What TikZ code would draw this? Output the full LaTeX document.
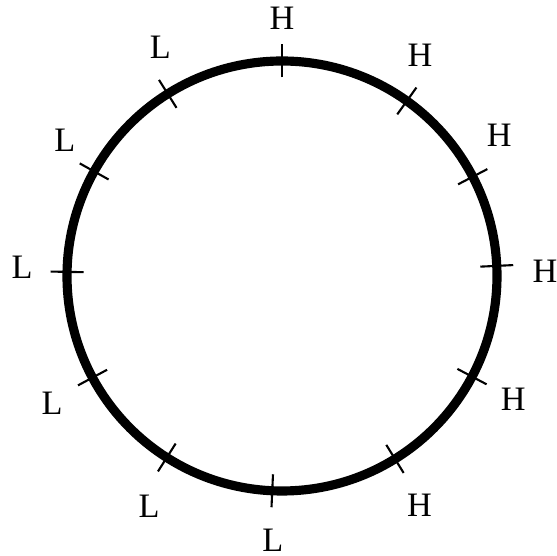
\documentclass[tikz,border=0pt]{standalone}
\usepackage{fontspec}
\setmainfont{Liberation Serif}
\usepackage{tikz}

\begin{document}
\begin{tikzpicture}[font=\fontsize{19.5}{23}\selectfont,
 ring/.style={line width=5.2pt},tk/.style={line width=1.2pt},lb/.style={inner sep=0pt}]
\useasboundingbox (-5.64,-5.6) rectangle (5.5,5.52);
\coordinate (O) at (0,0);
\draw[ring] (O) circle (4.3);
% ticks
\draw[tk] (90:3.97) -- (90:4.63);
\draw[tk] (54.5:3.97) -- (54.5:4.63);
\draw[tk] (27.5:3.97) -- (27.5:4.63);
\draw[tk] (2.7:3.97) -- (2.7:4.63);
\draw[tk] (-27.9:3.97) -- (-27.9:4.63);
\draw[tk] (-58.3:3.97) -- (-58.3:4.63);
\draw[tk] (-92.6:3.97) -- (-92.6:4.63);
\draw[tk] (-122.4:3.97) -- (-122.4:4.63);
\draw[tk] (-151.8:3.97) -- (-151.8:4.63);
\draw[tk] (178.9:3.97) -- (178.9:4.63);
\draw[tk] (150.9:3.97) -- (150.9:4.63);
\draw[tk] (122.1:3.97) -- (122.1:4.63);
% labels
\node[lb] (h1) at (90:5.16) {H};
\node[lb] (h2) at (58:5.21) {H};
\node[lb] (h3) at (33:5.18) {H};
\node[lb] (h4) at (1:5.26) {H};
\node[lb] (h5) at (-28:5.24) {H};
\node[lb] (h6) at (-59:5.34) {H};
\node[lb] (l1) at (-92:5.28) {L};
\node[lb] (l2) at (-120:5.32) {L};
\node[lb] (l3) at (-151:5.26) {L};
\node[lb] (l4) at (178:5.2) {L};
\node[lb] (l5) at (148:5.12) {L};
\node[lb] (l6) at (118:5.18) {L};
\end{tikzpicture}
\end{document}
